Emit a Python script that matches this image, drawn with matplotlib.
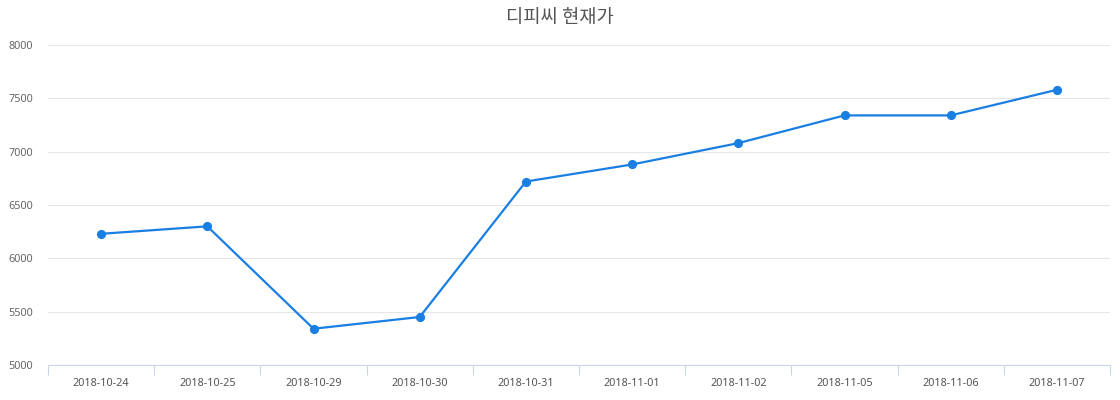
import matplotlib
matplotlib.use("Agg")
import matplotlib.pyplot as plt
import numpy as np

dates = ["2018-10-24", "2018-10-25", "2018-10-29", "2018-10-30", "2018-10-31",
         "2018-11-01", "2018-11-02", "2018-11-05", "2018-11-06", "2018-11-07"]
prices = [6230, 6300, 5340, 5450, 6720, 6880, 7080, 7340, 7340, 7580]
yticks = [5000, 5500, 6000, 6500, 7000, 7500, 8000]
title = "디피씨 현재가"

plt.rcParams['font.family'] = ['Noto Sans', 'Noto Sans CJK KR', 'DejaVu Sans']

fig = plt.figure(figsize=(11.2, 4.0), dpi=100)
ax = fig.add_axes([48/1120, 1-365/400, (1110-48)/1120, 320/400])

x = np.arange(len(dates))
ax.plot(x, prices, color='#1a7fe3', lw=1.6, marker='o', markersize=5.6, zorder=3)

ax.set_xlim(-0.5, len(dates)-0.5)
ax.set_ylim(5000, 8000)
ax.set_yticks(yticks)
ax.set_yticklabels([str(v) for v in yticks])
ax.set_xticks(x)
ax.set_xticklabels(dates)
ax.set_xticks(np.arange(-0.5, len(dates), 1.0), minor=True)
ax.tick_params(axis='x', which='major', length=0, pad=9, labelsize=7.8, colors='#555555')
ax.tick_params(axis='x', which='minor', length=7, width=0.8, color='#ccd6eb')
ax.tick_params(axis='y', length=0, pad=10.5, labelsize=7.8, colors='#666666')

ax.grid(axis='y', color='#e6e6e6', lw=0.8)
ax.set_axisbelow(True)
for s in ['top', 'right', 'left']:
    ax.spines[s].set_visible(False)
ax.spines['bottom'].set_color('#ccd6eb')
ax.spines['bottom'].set_linewidth(0.8)

fig.text(0.5, 1-18/400, title, ha='center', va='center', fontsize=13.5,
         color='#555555', weight='medium', family=['Noto Sans CJK KR', 'DejaVu Sans'])

fig.savefig("out.png", dpi=100, facecolor='white')
